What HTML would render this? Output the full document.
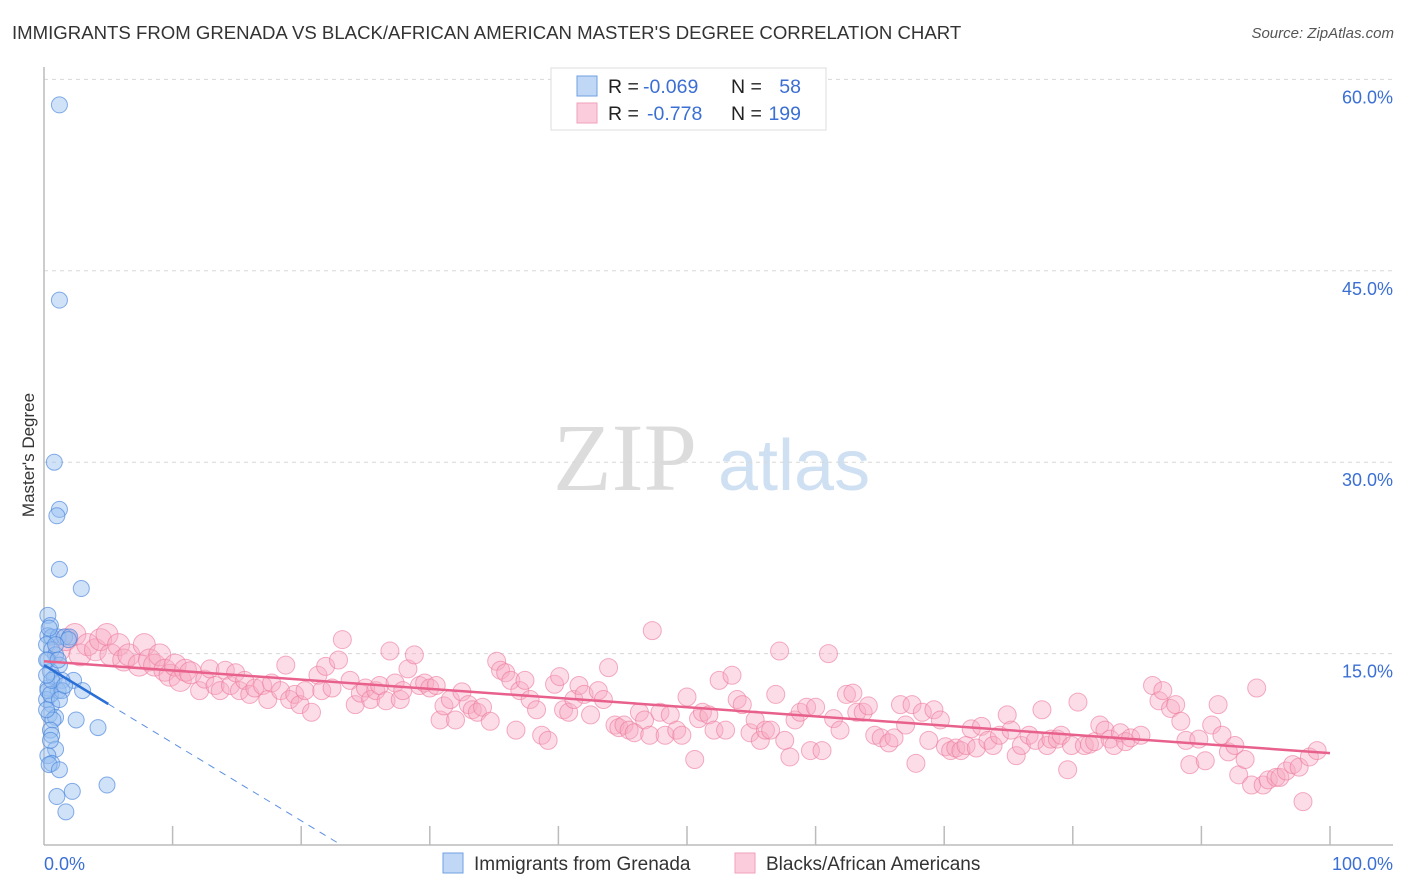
<!DOCTYPE html>
<html><head><meta charset="utf-8">
<style>
body{margin:0;background:#fff;font-family:"Liberation Sans",sans-serif;}
#wrap{position:relative;width:1406px;height:892px;overflow:hidden;}
.t{position:absolute;white-space:nowrap;}
</style></head>
<body>
<div id="wrap">
<div class="t" style="left:12px;top:22px;font-size:18.6px;color:#333;">IMMIGRANTS FROM GRENADA VS BLACK/AFRICAN AMERICAN MASTER'S DEGREE CORRELATION CHART</div>
<div class="t" style="right:12px;top:25px;font-size:15px;color:#555;font-style:italic;">Source: ZipAtlas.com</div>
<svg id="svg" width="1406" height="892" style="position:absolute;left:0;top:0"></svg>
</div>
<script>
const yTicks=[15,30,45,60];
const yTickLabels=["15.0%","30.0%","45.0%","60.0%"];
const xTickCount=10;
const blueTrend=[14.1,-0.61];
const pinkTrend=[14.4,7.2];
const blue=[[1.2,58.0],[1.2,42.7],[0.8,30.0],[1.2,26.3],[1.0,25.8],[1.2,21.6],[2.9,20.1],[0.3,18.0],[0.5,17.2],[0.3,16.4],[0.6,16.3],[1.1,16.3],[1.6,16.3],[2.0,16.3],[1.9,16.1],[0.2,15.7],[0.6,15.3],[0.9,14.9],[0.3,14.5],[1.2,14.1],[0.5,13.6],[0.8,13.1],[2.3,12.9],[1.4,12.9],[0.3,12.3],[1.1,12.1],[3.0,12.1],[0.2,11.4],[0.6,11.0],[0.4,10.2],[0.9,10.0],[0.7,9.8],[2.5,9.8],[0.5,9.0],[0.6,8.6],[4.2,9.2],[0.9,7.5],[0.3,7.0],[0.6,6.4],[0.4,6.3],[1.2,5.9],[4.9,4.7],[2.2,4.2],[1.0,3.8],[1.7,2.6],[0.3,12.1],[0.5,11.8],[0.2,14.5],[0.9,15.7],[1.4,12.1],[0.2,10.6],[0.5,8.2],[0.6,12.9],[1.2,11.4],[0.2,13.3],[1.1,14.5],[1.6,12.5],[0.4,17.0]];
const pink=[[1.2,15.3],[1.7,16.1],[2.4,16.5],[2.8,14.9],[3.4,15.7],[4.0,15.3],[4.4,16.1],[4.9,16.5],[5.2,14.9],[5.8,15.7],[6.2,14.5],[6.6,14.9],[7.4,14.1],[7.8,15.7],[8.2,14.5],[8.6,14.1],[9.0,14.9],[9.4,13.7],[9.8,13.3],[10.2,14.1],[10.6,12.9],[11.0,13.7],[11.4,13.5],[12.1,12.1],[12.5,13.0],[12.9,13.8],[13.3,12.5],[13.7,12.1],[14.1,13.7],[14.5,12.5],[14.9,13.5],[15.2,12.1],[15.6,12.9],[16.0,11.8],[16.4,12.3],[17.0,12.5],[17.4,11.4],[17.7,12.7],[18.4,12.1],[18.8,14.1],[19.1,11.4],[19.5,11.8],[19.9,11.0],[20.3,12.1],[20.8,10.4],[21.3,13.3],[21.6,12.1],[21.9,14.0],[22.4,12.3],[22.9,14.5],[23.2,16.1],[23.8,12.9],[24.2,11.0],[24.6,11.9],[25.0,12.3],[25.4,11.4],[25.8,12.1],[26.1,12.5],[26.6,11.3],[26.9,15.2],[27.3,12.7],[27.7,11.4],[27.9,12.1],[28.3,13.8],[28.8,14.9],[29.2,12.5],[29.6,12.7],[30.0,12.3],[30.5,12.5],[30.8,9.8],[31.1,10.9],[31.6,11.4],[32.0,9.8],[32.5,12.0],[33.0,11.0],[33.3,10.6],[33.7,10.4],[34.1,10.8],[34.7,9.7],[35.2,14.4],[35.5,13.7],[35.9,13.5],[36.3,12.9],[36.7,9.0],[37.0,12.1],[37.4,12.9],[37.8,11.4],[38.3,10.6],[38.7,8.6],[39.2,8.2],[39.7,12.6],[40.1,13.2],[40.4,10.6],[40.8,10.4],[41.2,11.4],[41.6,12.5],[42.0,11.8],[42.5,10.2],[43.1,12.1],[43.5,11.4],[43.9,13.9],[44.4,9.4],[44.7,9.2],[45.1,9.4],[45.5,9.0],[45.9,8.8],[46.3,10.4],[46.7,9.8],[47.1,8.6],[47.3,16.8],[47.9,10.4],[48.3,8.6],[48.7,10.2],[49.2,9.0],[49.6,8.6],[50.0,11.6],[50.6,6.7],[50.9,9.9],[51.2,10.4],[51.7,10.2],[52.1,9.0],[52.5,12.9],[53.0,9.0],[53.5,13.3],[53.9,11.4],[54.3,11.0],[54.9,8.8],[55.3,9.8],[55.7,8.2],[56.1,9.0],[56.5,9.0],[56.9,11.8],[57.2,15.2],[57.6,8.2],[58.0,6.9],[58.4,9.8],[58.8,10.4],[59.3,10.8],[59.6,7.4],[60.0,10.8],[60.5,7.4],[61.0,15.0],[61.4,9.9],[61.9,9.0],[62.4,11.8],[62.9,11.9],[63.2,10.4],[63.7,10.4],[64.1,10.9],[64.6,8.6],[65.1,8.4],[65.7,8.0],[66.1,8.4],[66.6,11.0],[67.0,9.4],[67.5,11.0],[67.8,6.4],[68.3,10.4],[68.8,8.2],[69.2,10.6],[69.7,9.8],[70.1,7.7],[70.5,7.4],[70.9,7.6],[71.3,7.4],[71.7,7.8],[72.1,9.1],[72.5,7.6],[72.9,9.3],[73.4,8.2],[73.8,7.8],[74.3,8.6],[74.9,10.2],[75.2,9.0],[75.6,7.0],[76.0,7.8],[76.6,8.6],[77.1,8.2],[77.6,10.6],[78.0,7.8],[78.3,8.3],[78.8,8.3],[79.1,8.6],[79.6,5.9],[79.9,7.8],[80.4,11.2],[80.9,7.8],[81.3,7.9],[81.7,8.1],[82.1,9.4],[82.5,9.0],[82.9,8.3],[83.2,7.8],[83.7,8.8],[84.1,8.1],[84.5,8.4],[85.3,8.6],[86.2,12.5],[86.7,11.3],[87.0,12.1],[87.6,10.7],[88.0,11.0],[88.4,9.7],[88.8,8.2],[89.1,6.3],[89.8,8.3],[90.3,6.6],[90.8,9.4],[91.3,11.0],[91.6,8.6],[92.1,7.3],[92.6,7.8],[92.9,5.5],[93.4,6.7],[93.9,4.7],[94.3,12.3],[94.8,4.7],[95.2,5.1],[95.8,5.3],[96.1,5.3],[96.6,5.8],[97.1,6.3],[97.6,6.1],[97.9,3.4],[98.4,6.9],[99.0,7.4]];

const X0=44,X1=1330,Y0=845,PER=12.76;
const sx=v=>X0+(X1-X0)*v/100;
const sy=v=>Y0-v*PER;
const svg=document.getElementById('svg');
const NS='http://www.w3.org/2000/svg';
function mk(tag,attrs){const e=document.createElementNS(NS,tag);for(const k in attrs)e.setAttribute(k,attrs[k]);svg.appendChild(e);return e;}

let w1=mk('text',{x:553,y:490,'font-size':96,fill:'#dcdcdc','font-family':'Liberation Serif, serif'});w1.textContent='ZIP';


let w2=mk('text',{x:718,y:490,'font-size':72,fill:'#cfe0f3','font-family':'Liberation Sans, sans-serif'});w2.textContent='atlas';



yTicks.forEach((v,i)=>{
  let g=mk('line',{x1:X0,x2:1393,y1:sy(v),y2:sy(v),stroke:'#d8d8d8','stroke-dasharray':'4,4'});
  
  
  let t=mk('text',{x:1393,y:sy(v)+24,'text-anchor':'end','font-size':18,fill:'#3b6fd4'});t.textContent=yTickLabels[i];
  
  
});
let ax=mk('line',{x1:X0,x2:1393,y1:Y0,y2:Y0,stroke:'#bbb','stroke-width':1.5});


let ay=mk('line',{x1:X0,x2:X0,y1:67,y2:Y0,stroke:'#bbb','stroke-width':1.5});


for(let k=1;k<=xTickCount;k++){
  let tk=mk('line',{x1:sx(k*10),x2:sx(k*10),y1:Y0,y2:Y0-19,stroke:'#bbb','stroke-width':1.5});
  
  
}
let xl0=mk('text',{x:44,y:870,'font-size':18,fill:'#3b6fd4'});xl0.textContent='0.0%';


let xl1=mk('text',{x:1393,y:870,'text-anchor':'end','font-size':18,fill:'#3b6fd4'});xl1.textContent='100.0%';


let yt=mk('text',{x:0,y:0,'font-size':17,fill:'#333','text-anchor':'middle',transform:'translate(34,455) rotate(-90)'});yt.textContent="Master's Degree";



pink.forEach(p=>{
  const big=p[0]<12;
  let c=mk('circle',{cx:sx(p[0]),cy:sy(p[1]),r:big?11:9,fill:'rgba(248,170,195,0.4)',stroke:'rgba(236,120,155,0.6)','stroke-width':1});
  
  
});
blue.forEach(p=>{
  let c=mk('circle',{cx:sx(p[0]),cy:sy(p[1]),r:8,fill:'rgba(150,190,240,0.45)',stroke:'rgba(70,130,220,0.65)','stroke-width':1});
  
  
});
let pl=mk('line',{x1:sx(0),y1:sy(pinkTrend[0]),x2:sx(100),y2:sy(pinkTrend[1]),stroke:'#e8608c','stroke-width':2.5});


const bAt=x=>blueTrend[0]+blueTrend[1]*x;
let bl=mk('line',{x1:sx(0),y1:sy(bAt(0)),x2:sx(5),y2:sy(bAt(5)),stroke:'#2a6fd6','stroke-width':2.5});


const xEnd=-blueTrend[0]/blueTrend[1];
let bd=mk('line',{x1:sx(5),y1:sy(bAt(5)),x2:sx(xEnd),y2:sy(0),stroke:'#5b8fe0','stroke-width':1,'stroke-dasharray':'7,6'});



let lb=mk('rect',{x:551,y:68,width:275,height:62,fill:'#fff',stroke:'#ddd'});


const rows=[["rgba(150,190,240,0.6)","#6f9fe0","-0.069","58",86,643],["rgba(248,170,195,0.6)","#f0a0bb","-0.778","199",113,647]];
rows.forEach(r=>{
  let s=mk('rect',{x:577,y:r[4]-10,width:20,height:20,fill:r[0],stroke:r[1]});
  
  
  let t=mk('text',{x:608,y:r[4]+7,'font-size':19.5,fill:'#222'});t.textContent='R =';
  
  
  let rv=mk('text',{x:r[5],y:r[4]+7,'font-size':19.5,fill:'#3b6fd4'});rv.textContent=r[2];
  
  
  let n=mk('text',{x:731,y:r[4]+7,'font-size':19.5,fill:'#222'});n.textContent='N =';
  
  
  let nv=mk('text',{x:801,y:r[4]+7,'font-size':19.5,fill:'#3b6fd4','text-anchor':'end'});nv.textContent=r[3];
  
  
});
const bot=[[443,"rgba(150,190,240,0.6)","#6f9fe0","Immigrants from Grenada"],[735,"rgba(248,170,195,0.6)","#f0a0bb","Blacks/African Americans"]];
bot.forEach(b=>{
  let s=mk('rect',{x:b[0],y:853,width:20,height:20,fill:b[1],stroke:b[2]});
  
  
  let t=mk('text',{x:b[0]+31,y:870,'font-size':19,fill:'#333'});t.textContent=b[3];
  
  
});
</script>
</body></html>
